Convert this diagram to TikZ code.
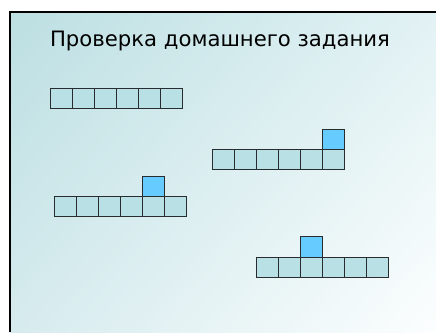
\documentclass[tikz,border=0pt]{standalone}
\usepackage{fontspec}
\setmainfont{DejaVu Sans}
\usetikzlibrary{shadings}
\definecolor{cellfill}{RGB}{185,224,228}
\definecolor{bluefill}{RGB}{102,204,255}
\definecolor{cellline}{RGB}{40,44,46}
\definecolor{bgA}{RGB}{188,223,226}
\definecolor{bgB}{RGB}{226,242,244}
\definecolor{bgC}{RGB}{214,235,238}
\definecolor{bgD}{RGB}{252,254,254}
\begin{document}
\begin{tikzpicture}[x=1pt,y=-1pt,
  cell/.style={draw=cellline, line width=0.9pt, fill=cellfill},
  bluecell/.style={draw=cellline, line width=0.9pt, fill=bluefill}]
\useasboundingbox (0,0) rectangle (436,332);
\fill[white] (0,0) rectangle (436,332);
\shade[upper left=bgA, upper right=bgB, lower left=bgC, lower right=bgD] (10,12) rectangle (436,332);
\draw[line width=2pt] (10,332) -- (10,12) -- (436,12);
\node[font=\fontsize{21.2}{25}\selectfont, anchor=base, inner sep=0pt] (title) at (220,46.7) {Проверка домашнего задания};
% row 1
\foreach \i in {0,...,5} \draw[cell] (50+22*\i,88.5) rectangle ++(22,20.2);
% row 2
\foreach \i in {0,...,5} \draw[cell] (212.5+22*\i,149.3) rectangle ++(22,20.4);
\draw[bluecell] (322.5,129) rectangle ++(22,20.3);
% row 3
\foreach \i in {0,...,5} \draw[cell] (54.5+22*\i,196) rectangle ++(22,20.3);
\draw[bluecell] (142.5,176) rectangle ++(22,20);
% row 4
\foreach \i in {0,...,5} \draw[cell] (256+22*\i,257.3) rectangle ++(22,20.5);
\draw[bluecell] (300,236.8) rectangle ++(22,20.5);
\end{tikzpicture}
\end{document}
